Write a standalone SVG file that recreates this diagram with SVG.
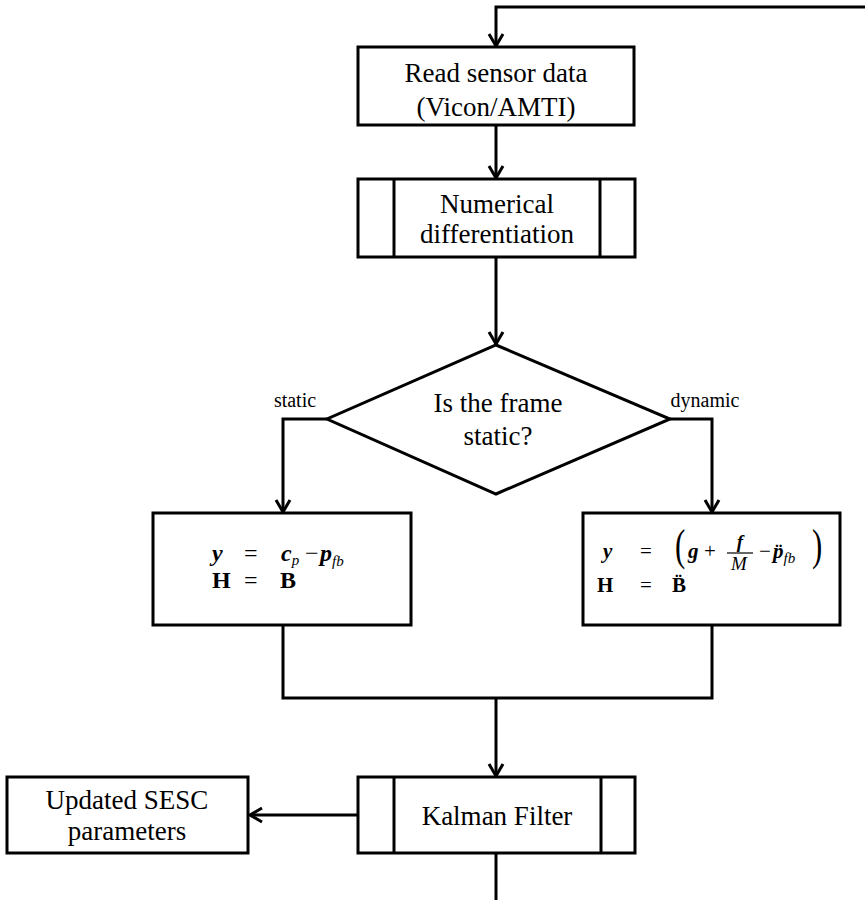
<svg xmlns="http://www.w3.org/2000/svg" width="865" height="900" viewBox="0 0 865 900">
<defs>
<marker id="arr" viewBox="0 0 14 16" refX="12.5" refY="8" markerWidth="14" markerHeight="16" markerUnits="userSpaceOnUse" orient="auto" overflow="visible">
<path d="M0.5,1 L12.5,8 L0.5,15" fill="none" stroke="#000" stroke-width="3"/>
</marker>
</defs>
<style>
.box{fill:#fff;stroke:#000;stroke-width:3}
.conn{fill:none;stroke:#000;stroke-width:3}
.t{font-family:"Liberation Serif","Times New Roman",serif;font-size:27px;text-anchor:middle;fill:#000}
.lbl{font-family:"Liberation Serif","Times New Roman",serif;font-size:20px;text-anchor:middle;fill:#000}
.m{font-family:"Liberation Serif","Times New Roman",serif;fill:#000}
.m22{font-size:24px}
.m20{font-size:21px}
.v{font-weight:bold;font-style:italic}
.b{font-weight:bold}
.i{font-style:italic}
.s{font-size:15px;font-style:italic}
.fr{font-size:19px;text-anchor:middle}
.par{font-size:44px}
</style>
<rect width="865" height="900" fill="#fff"/>

<g id="connectors">
<path class="conn" d="M865,7 H496 V46" marker-end="url(#arr)"/>
<path class="conn" d="M496,125 V178" marker-end="url(#arr)"/>
<path class="conn" d="M496,257 V344" marker-end="url(#arr)"/>
<path class="conn" d="M327,419 H283 V512" marker-end="url(#arr)"/>
<path class="conn" d="M670,419 H712 V512" marker-end="url(#arr)"/>
<path class="conn" d="M283,625 V698 H712 V625"/>
<path class="conn" d="M496,698 V776" marker-end="url(#arr)"/>
<path class="conn" d="M358,815 H250" marker-end="url(#arr)"/>
<path class="conn" d="M496,853 V900"/>
</g>

<g id="read">
<rect class="box" x="358" y="47" width="276" height="78"/>
<text class="t" x="496" y="82">Read sensor data</text>
<text class="t" x="496" y="116">(Vicon/AMTI)</text>
</g>

<g id="numdiff">
<rect class="box" x="358" y="179" width="277" height="78"/>
<line class="conn" x1="394" y1="179" x2="394" y2="257"/>
<line class="conn" x1="600" y1="179" x2="600" y2="257"/>
<text class="t" x="497" y="213">Numerical</text>
<text class="t" x="497" y="243">differentiation</text>
</g>

<g id="decision">
<polygon class="box" points="496,345 670,419 496,494 327,419"/>
<text class="t" x="498" y="412">Is the frame</text>
<text class="t" x="498" y="445">static?</text>
<text class="lbl" x="295" y="407">static</text>
<text class="lbl" x="705" y="407">dynamic</text>
</g>

<g id="static-box">
<rect class="box" x="153" y="513" width="258" height="112"/>
<text class="m m22" y="561"><tspan x="212" class="v">y</tspan><tspan x="244">=</tspan><tspan x="281" class="v">c</tspan><tspan class="s" dy="4">p</tspan><tspan dy="-4" x="305">−</tspan><tspan x="320" class="v">p</tspan><tspan class="s" dy="5">fb</tspan></text>
<text class="m m22" y="588"><tspan x="212" class="b">H</tspan><tspan x="244">=</tspan><tspan x="280" class="b">B</tspan></text>
</g>

<g id="dynamic-box">
<rect class="box" x="583" y="513" width="257" height="112"/>
<text class="m m20" y="558"><tspan x="603" class="v">y</tspan><tspan x="640">=</tspan><tspan x="688" class="v">g</tspan><tspan x="704">+</tspan><tspan x="759">−</tspan><tspan x="773" class="v">p̈</tspan><tspan class="s" dy="5">fb</tspan></text>
<text class="m par" transform="translate(675,560) scale(0.7,1)">(</text>
<text class="m par" transform="translate(812,560) scale(0.7,1)">)</text>
<text class="m v fr" x="740" y="548">f</text>
<line x1="727" y1="553" x2="753" y2="553" stroke="#000" stroke-width="1.2"/>
<text class="m i fr" x="739" y="570">M</text>
<text class="m m20" y="592"><tspan x="597" class="b">H</tspan><tspan x="640">=</tspan><tspan x="672" class="b">B̈</tspan></text>
</g>

<g id="kalman">
<rect class="box" x="358" y="777" width="277" height="76"/>
<line class="conn" x1="394" y1="777" x2="394" y2="853"/>
<line class="conn" x1="601" y1="777" x2="601" y2="853"/>
<text class="t" x="497" y="825">Kalman Filter</text>
</g>

<g id="updated">
<rect class="box" x="7" y="777" width="241" height="76"/>
<text class="t" x="127" y="809">Updated SESC</text>
<text class="t" x="127" y="840">parameters</text>
</g>
</svg>
